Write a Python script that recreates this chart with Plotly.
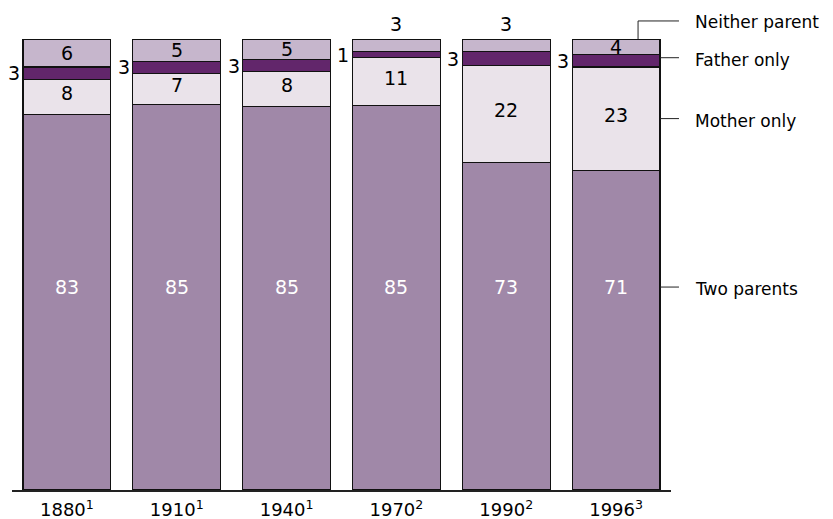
import plotly.graph_objects as go

years = ["1880", "1910", "1940", "1970", "1990", "1996"]
notes = ["1", "1", "1", "2", "2", "3"]
two_parents = [83.3, 85.4, 85.0, 85.3, 72.6, 70.9]
mother_only = [7.8, 7.0, 7.8, 10.6, 21.5, 22.9]
father_only = [2.7, 2.7, 2.6, 1.3, 3.1, 2.7]
neither_parent = [6.2, 4.9, 4.6, 2.8, 2.8, 3.5]

two_labels = ["83", "85", "85", "85", "73", "71"]
mother_labels = ["8", "7", "8", "11", "22", "23"]
father_labels = ["3", "3", "3", "1", "3", "3"]
neither_labels = ["6", "5", "5", "3", "3", "4"]
neither_outside = [False, False, False, True, True, False]

series_names = ["Two parents", "Mother only", "Father only", "Neither parent"]
colors = ["#A088A8", "#EAE3EA", "#62266B", "#C6B6CC"]

FONT = "DejaVu Sans"
FS = 19
LFS = 17
BAR_W = 0.8

x = list(range(len(years)))
ticktext = [f"{y}<sup>{n}</sup>" for y, n in zip(years, notes)]

fig = go.Figure()
for name, vals, col in zip(series_names,
                           [two_parents, mother_only, father_only, neither_parent],
                           colors):
    fig.add_trace(go.Bar(x=x, y=vals, name=name, width=BAR_W,
                         marker=dict(color=col, line=dict(color="#111111", width=1.2)),
                         hoverinfo="skip"))

ann = []
for i in range(len(years)):
    b1 = two_parents[i]
    b2 = b1 + mother_only[i]
    b3 = b2 + father_only[i]
    b4 = b3 + neither_parent[i]
    ann.append(dict(x=i, y=45, text=two_labels[i], showarrow=False,
                    font=dict(color="white", size=FS, family=FONT)))
    ann.append(dict(x=i, y=(b1 + b2) / 2 + 0.8, text=mother_labels[i], showarrow=False,
                    font=dict(color="black", size=FS, family=FONT)))
    ann.append(dict(x=i - BAR_W / 2, y=(b2 + b3) / 2, text=father_labels[i], showarrow=False,
                    xanchor="right", xshift=-1,
                    font=dict(color="black", size=FS, family=FONT)))
    if neither_outside[i]:
        ann.append(dict(x=i, y=b4, text=neither_labels[i], showarrow=False,
                        yanchor="bottom", yshift=2,
                        font=dict(color="black", size=FS, family=FONT)))
    else:
        ann.append(dict(x=i, y=(b3 + b4) / 2, text=neither_labels[i], showarrow=False,
                        font=dict(color="black", size=FS, family=FONT)))

last = len(years) - 1
xr0, xr1 = -0.5, len(years) - 0.5
def to_paper(xv):
    return (xv - xr0) / (xr1 - xr0)

PLOT_W = 660
bar_right = to_paper(last + BAR_W / 2)
bar_mid = to_paper(last + 0.2)
line_end = bar_right + 19 / PLOT_W
text_x = bar_right + 33 / PLOT_W

l1 = two_parents[last]
l2 = l1 + mother_only[last]
l3 = l2 + father_only[last]
l4 = l3 + neither_parent[last]
label_y = {
    "Two parents": 45 / 100,
    "Mother only": (l1 + l2) / 2 / 100,
    "Father only": (l2 + l3) / 2 / 100 + 0.007,
    "Neither parent": 1.04,
}
shapes = []
for name in ["Two parents", "Mother only", "Father only"]:
    yy = label_y[name]
    shapes.append(dict(type="line", xref="paper", yref="paper",
                       x0=bar_right, x1=line_end, y0=yy, y1=yy,
                       line=dict(color="#222222", width=1)))
    ann.append(dict(xref="paper", yref="paper", x=text_x, y=yy, text=name,
                    showarrow=False, xanchor="left", yanchor="middle", yshift=-2,
                    font=dict(color="black", size=LFS, family=FONT)))
yy = label_y["Neither parent"]
shapes.append(dict(type="line", xref="paper", yref="paper",
                   x0=bar_mid, x1=bar_mid, y0=l4 / 100, y1=yy,
                   line=dict(color="#222222", width=1)))
shapes.append(dict(type="line", xref="paper", yref="paper",
                   x0=bar_mid, x1=line_end, y0=yy, y1=yy,
                   line=dict(color="#222222", width=1)))
ann.append(dict(xref="paper", yref="paper", x=text_x, y=yy, text="Neither parent",
                showarrow=False, xanchor="left", yanchor="middle", yshift=-1,
                font=dict(color="black", size=LFS, family=FONT)))

fig.update_layout(
    barmode="stack",
    width=825, height=511,
    margin=dict(l=3.5, r=161.5, t=31, b=29.3, autoexpand=False),
    paper_bgcolor="white", plot_bgcolor="white",
    showlegend=False,
    annotations=ann,
    shapes=shapes,
    font=dict(family=FONT, size=FS, color="black"),
    xaxis=dict(range=[xr0, xr1], tickmode="array", tickvals=x, ticktext=ticktext,
               showline=True, linecolor="#222222", linewidth=1.5,
               showgrid=False, zeroline=False, ticks="", fixedrange=True,
               ticklabelstandoff=3,
               tickfont=dict(size=18, family=FONT, color="black")),
    yaxis=dict(range=[0, 100], visible=False, showgrid=False, zeroline=False,
               fixedrange=True),
)

fig.write_html("out.html")
